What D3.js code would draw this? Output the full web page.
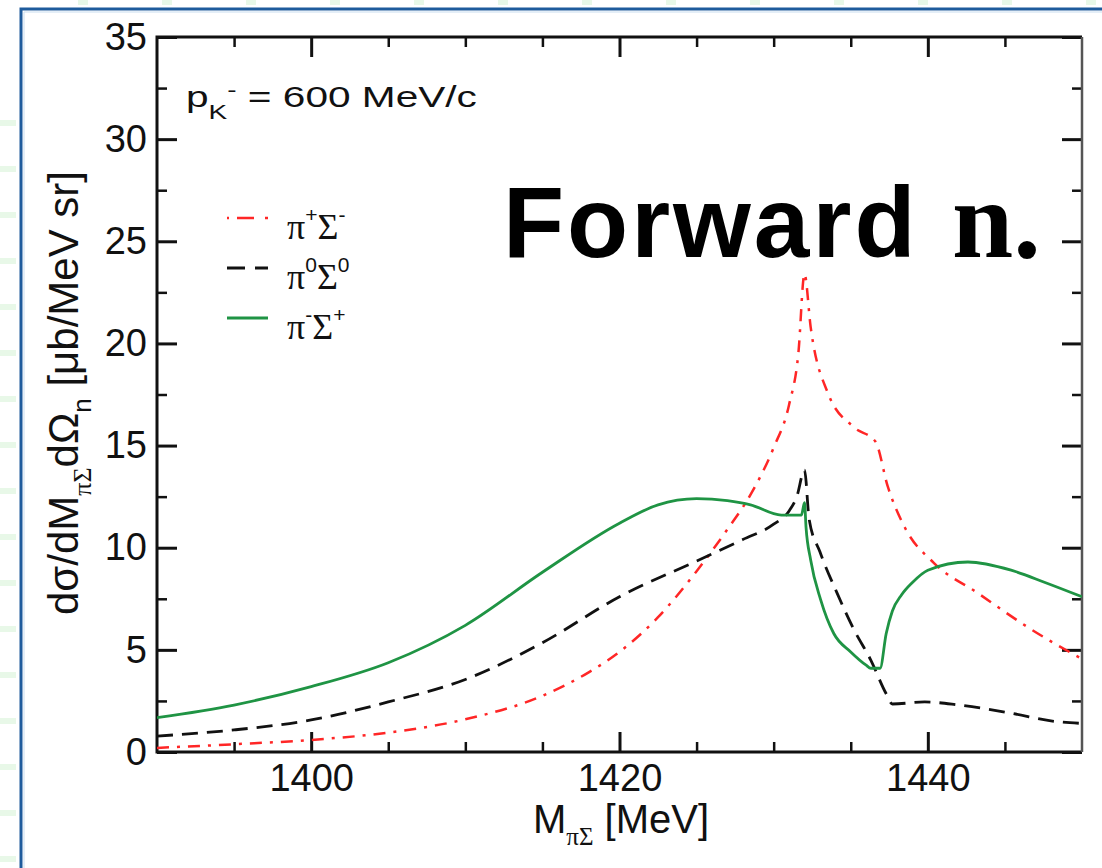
<!DOCTYPE html>
<html>
<head>
<meta charset="utf-8">
<script src="https://cdn.jsdelivr.net/npm/d3@7"></script>
<style>
  body { margin: 0; background: #fff; }
  svg { display: block; }
</style>
</head>
<body>
<div id="chart"></div>
<script>
// pi+ Sigma- (red, dash-dot)
var redMass   = [1390, 1395, 1400, 1405, 1410, 1415, 1418, 1420, 1422.5, 1425, 1427, 1428.5, 1430, 1431, 1431.6, 1432, 1432.4, 1433.5, 1435.2, 1436.6, 1437.4, 1438.5, 1440.4, 1443.2, 1446.5, 1450];
var redValues = [0.2, 0.38, 0.59, 0.95, 1.6, 2.75, 3.9, 4.9, 6.6, 8.85, 10.9, 12.6, 14.9, 17.0, 19.5, 23.4, 20.8, 17.6, 15.9, 15.2, 13.0, 11.0, 9.25, 7.8, 6.1, 4.55];

// pi0 Sigma0 (black, dashed)
var blackMass   = [1390, 1395, 1400, 1405, 1410, 1415, 1420, 1425, 1428, 1430, 1431, 1431.5, 1432, 1432.3, 1433, 1434.1, 1435.2, 1436.3, 1437.3, 1437.7, 1439.8, 1442, 1445.4, 1448.2, 1450];
var blackValues = [0.78, 1.08, 1.57, 2.45, 3.55, 5.35, 7.6, 9.35, 10.4, 11.15, 11.8, 12.5, 13.8, 11.4, 9.8, 7.8, 6.0, 4.5, 2.85, 2.35, 2.45, 2.3, 1.9, 1.5, 1.4];

// pi- Sigma+ (green, solid)
var greenMass   = [1390, 1395, 1400, 1405, 1410, 1415, 1420, 1422.5, 1425, 1427, 1428.5, 1430.5, 1431.8, 1432, 1432.1, 1432.4, 1433.05, 1433.9, 1435, 1436, 1436.3, 1436.9, 1437.3, 1437.7, 1438.3, 1439, 1440, 1442.6, 1445.4, 1447.6, 1450];
var greenValues = [1.68, 2.3, 3.2, 4.37, 6.2, 8.8, 11.2, 12.1, 12.4, 12.3, 12.1, 11.6, 11.6, 12.2, 11.0, 9.4, 7.45, 5.8, 4.9, 4.25, 4.1, 4.1, 5.8, 6.9, 7.7, 8.3, 8.9, 9.3, 8.9, 8.3, 7.6];

var xMajorTicks = [1400, 1420, 1440];
var xMinorTicks = [1395, 1405, 1410, 1415, 1425, 1430, 1435, 1445];
var yMajorTicks = [0, 5, 10, 15, 20, 25, 30, 35];
var yMinorTicks = [2.5, 7.5, 12.5, 17.5, 22.5, 27.5, 32.5];

var seriesSup1 = ["+", "0", "-"];
var seriesSup2 = ["-", "0", "+"];

var width = 1102;
var height = 868;
var x = d3.scaleLinear().domain([1390, 1450]).range([157, 1082]);
var y = d3.scaleLinear().domain([0, 35]).range([752, 37]);

var svg = d3.select("#chart").append("svg")
    .attr("width", width)
    .attr("height", height)
    .style("background", "#fff");

// faint green marks outside the frame
var deco = svg.append("g").attr("fill", "#e8f8e8");
deco.selectAll("rect.l").data(d3.range(120, 868, 46)).enter().append("rect")
    .attr("x", 0).attr("y", function (d) { return d; })
    .attr("width", 16).attr("height", 6);
deco.selectAll("rect.t").data(d3.range(78, 1102, 84)).enter().append("rect")
    .attr("x", function (d) { return d; }).attr("y", 0)
    .attr("width", 10).attr("height", 5);

// blue frame
svg.append("path")
    .attr("d", "M21,868 V9 H1102")
    .attr("fill", "none")
    .attr("stroke", "#1e5b9c")
    .attr("stroke-width", 3);
svg.append("path")
    .attr("d", "M24,868 V12 H1102")
    .attr("fill", "none")
    .attr("stroke", "#c9ddef")
    .attr("stroke-width", 1);

svg.append("defs").append("clipPath").attr("id", "plotClip")
    .append("rect")
    .attr("x", x(1390)).attr("y", y(35))
    .attr("width", x(1450) - x(1390)).attr("height", y(0) - y(35));

function styleAxis(g, strokeWidth) {
    g.select(".domain").remove();
    g.selectAll(".tick line").attr("stroke", "#111").attr("stroke-width", strokeWidth);
    g.selectAll(".tick text")
        .attr("fill", "#111")
        .style("font-family", "'Liberation Sans', Arial, sans-serif")
        .style("font-size", "38px");
}

// bottom
svg.append("g").attr("transform", "translate(0," + y(0) + ")")
    .call(d3.axisBottom(x).tickValues(xMajorTicks).tickSize(-20).tickPadding(12).tickFormat(d3.format("d")))
    .call(styleAxis, 3);
svg.append("g").attr("transform", "translate(0," + y(0) + ")")
    .call(d3.axisBottom(x).tickValues(xMinorTicks).tickSize(-10).tickFormat(""))
    .call(styleAxis, 2.5);
// top
svg.append("g").attr("transform", "translate(0," + y(35) + ")")
    .call(d3.axisTop(x).tickValues(xMajorTicks).tickSize(-20).tickFormat(""))
    .call(styleAxis, 3);
svg.append("g").attr("transform", "translate(0," + y(35) + ")")
    .call(d3.axisTop(x).tickValues(xMinorTicks).tickSize(-10).tickFormat(""))
    .call(styleAxis, 2.5);
// left
svg.append("g").attr("transform", "translate(" + x(1390) + ",0)")
    .call(d3.axisLeft(y).tickValues(yMajorTicks).tickSize(-20).tickPadding(10).tickFormat(d3.format("d")))
    .call(styleAxis, 3);
svg.append("g").attr("transform", "translate(" + x(1390) + ",0)")
    .call(d3.axisLeft(y).tickValues(yMinorTicks).tickSize(-10).tickFormat(""))
    .call(styleAxis, 2.5);
// right
svg.append("g").attr("transform", "translate(" + x(1450) + ",0)")
    .call(d3.axisRight(y).tickValues(yMajorTicks).tickSize(-20).tickFormat(""))
    .call(styleAxis, 3);
svg.append("g").attr("transform", "translate(" + x(1450) + ",0)")
    .call(d3.axisRight(y).tickValues(yMinorTicks).tickSize(-10).tickFormat(""))
    .call(styleAxis, 2.5);

// plot frame
svg.append("path")
    .attr("d", "M" + x(1450) + "," + y(35) + " H" + x(1390) + " V" + y(0) + " H" + x(1450))
    .attr("fill", "none").attr("stroke", "#111").attr("stroke-width", 3);
svg.append("line")
    .attr("x1", x(1450)).attr("x2", x(1450)).attr("y1", y(35)).attr("y2", y(0))
    .attr("stroke", "#555").attr("stroke-width", 2.5);

// curves
var line = d3.line()
    .x(function (d) { return x(d[0]); })
    .y(function (d) { return y(d[1]); })
    .curve(d3.curveMonotoneX);

var series = [
    { mass: redMass, values: redValues, color: "#ff2626", width: 2.5, dash: "12,8,3,8" },
    { mass: blackMass, values: blackValues, color: "#111", width: 2.8, dash: "16,9" },
    { mass: greenMass, values: greenValues, color: "#1f9444", width: 2.8, dash: null }
];

var plot = svg.append("g").attr("clip-path", "url(#plotClip)");
series.forEach(function (s) {
    plot.append("path")
        .datum(d3.zip(s.mass, s.values))
        .attr("fill", "none")
        .attr("stroke", s.color)
        .attr("stroke-width", s.width)
        .attr("stroke-dasharray", s.dash)
        .attr("d", line);
});

// legend
var legendY = [218, 268, 318];
series.forEach(function (s, i) {
    svg.append("line")
        .attr("x1", 227).attr("x2", 268)
        .attr("y1", legendY[i]).attr("y2", legendY[i])
        .attr("stroke", s.color)
        .attr("stroke-width", s.width)
        .attr("stroke-dasharray", i === 0 ? "2,8,17,11,3" : (i === 1 ? "18,10,13" : null));
    var t = svg.append("text")
        .attr("x", 287).attr("y", legendY[i] + 21)
        .style("font-family", "'Liberation Serif', 'Times New Roman', serif")
        .style("font-size", "36px")
        .attr("fill", "#111");
    t.append("tspan").text("π");
    t.append("tspan").attr("dy", -17).style("font-size", "21px")
        .style("font-family", "'Liberation Sans', Arial, sans-serif").text(seriesSup1[i]);
    t.append("tspan").attr("dy", 17).text("Σ");
    t.append("tspan").attr("dy", -17).style("font-size", "21px")
        .style("font-family", "'Liberation Sans', Arial, sans-serif").text(seriesSup2[i]);
});

// momentum label
var pk = svg.append("text")
    .attr("transform", "translate(186,107) scale(1.4,1)")
    .style("font-family", "'Liberation Sans', Arial, sans-serif")
    .style("font-size", "29px")
    .attr("fill", "#111");
pk.append("tspan").text("p");
pk.append("tspan").attr("dy", 12).style("font-size", "20px").text("K");
pk.append("tspan").attr("dy", -22).style("font-size", "20px").text("-");
pk.append("tspan").attr("dy", 10).text(" = 600 MeV/c");

// big annotation
svg.append("text")
    .attr("x", 503).attr("y", 257)
    .style("font-family", "'Liberation Sans', Arial, sans-serif")
    .style("font-weight", "bold")
    .style("font-size", "100px")
    .style("letter-spacing", "3px")
    .attr("fill", "#000")
    .text("Forward");
svg.append("text")
    .attr("x", 952).attr("y", 257)
    .style("font-family", "'Liberation Serif', 'Times New Roman', serif")
    .style("font-weight", "bold")
    .style("font-size", "110px")
    .attr("fill", "#000")
    .text("n.");

// x axis title
var xt = svg.append("text")
    .attr("x", 621).attr("y", 833)
    .attr("text-anchor", "middle")
    .style("font-family", "'Liberation Sans', Arial, sans-serif")
    .style("font-size", "40px")
    .attr("fill", "#111");
xt.append("tspan").text("M");
xt.append("tspan").attr("dy", 12).style("font-size", "25px")
    .style("font-family", "'Liberation Serif', serif").text("πΣ");
xt.append("tspan").attr("dy", -12).text(" [MeV]");

// y axis title
var yt = svg.append("text")
    .attr("transform", "translate(78,393) rotate(-90)")
    .attr("text-anchor", "middle")
    .style("font-family", "'Liberation Sans', Arial, sans-serif")
    .style("font-size", "42px")
    .attr("fill", "#111");
yt.append("tspan").text("dσ/dM");
yt.append("tspan").attr("dy", 13).style("font-size", "26px")
    .style("font-family", "'Liberation Serif', serif").text("πΣ");
yt.append("tspan").attr("dy", -13).text("dΩ");
yt.append("tspan").attr("dy", 13).style("font-size", "26px").text("n");
yt.append("tspan").attr("dy", -13).text(" [μb/MeV sr]");
</script>
</body>
</html>
